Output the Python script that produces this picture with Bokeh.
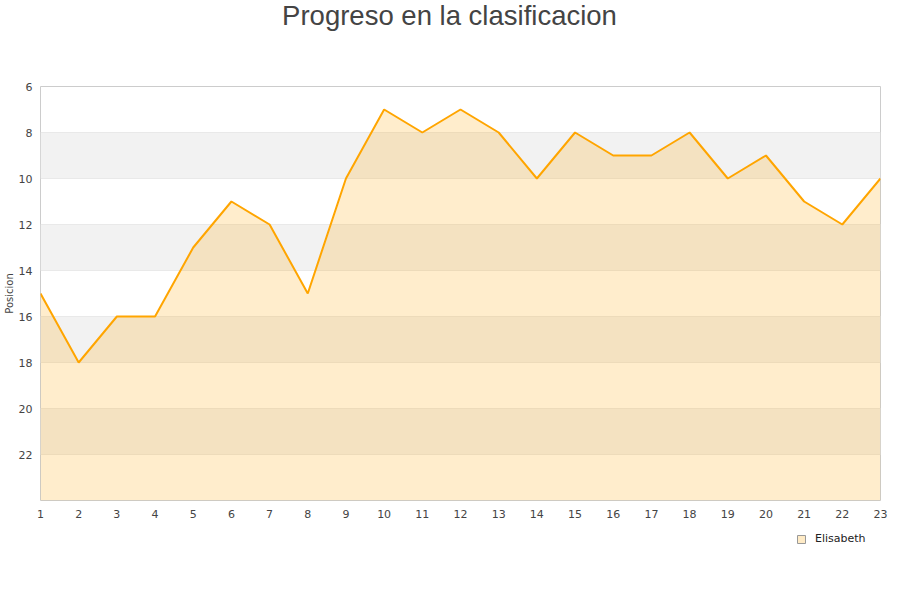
from bokeh.plotting import figure
from bokeh.models import Range1d, BoxAnnotation, FixedTicker, Legend, LegendItem, ColumnDataSource, Label
from bokeh.layouts import column
from bokeh.embed import file_html
from bokeh.resources import INLINE

jornadas = list(range(1, 24))
posiciones = [15, 18, 16, 16, 13, 11, 12, 15, 10, 7, 8, 7, 8, 10, 8, 9, 9, 8, 10, 9, 11, 12, 10]
y_ticks = [6, 8, 10, 12, 14, 16, 18, 20, 22]
band_starts = [8, 12, 16, 20]
series_name = "Elisabeth"
title_text = "Progreso en la clasificacion"

FRAME_LEFT = 40  # the column aligns all frames to the main plot's frame


def blank(h):
    f = figure(width=900, height=h, output_backend="svg", toolbar_location=None,
               x_range=Range1d(0, 1), y_range=Range1d(0, 1),
               x_axis_type=None, y_axis_type=None,
               min_border_left=0, min_border_right=0, min_border_top=0, min_border_bottom=0)
    f.outline_line_color = None
    f.xgrid.grid_line_color = None
    f.ygrid.grid_line_color = None
    return f


# title strip
top = blank(40)
top.add_layout(Label(x=449 - FRAME_LEFT, y=25, x_units="screen", y_units="screen", text=title_text,
                     text_font="Liberation Sans", text_font_size="27.5px", text_color="#444444",
                     text_align="center", text_baseline="middle"))

p = figure(width=900, height=485, output_backend="svg", toolbar_location=None,
           x_range=Range1d(1, 23), y_range=Range1d(24, 6),
           min_border_left=FRAME_LEFT, min_border_right=20, min_border_bottom=25, min_border_top=46)

p.outline_line_color = "#cccccc"
p.background_fill_color = "white"
p.border_fill_color = "white"

for b in band_starts:
    p.add_layout(BoxAnnotation(bottom=b, top=b + 2, fill_color="#f2f2f2", fill_alpha=1.0, line_alpha=0, level="underlay"))

p.xgrid.grid_line_color = None
p.ygrid.grid_line_color = "#e0e0e0"
p.ygrid.ticker = FixedTicker(ticks=y_ticks)

src = ColumnDataSource(dict(x=jornadas, y=posiciones, base=[24] * len(jornadas)))
p.varea(x="x", y1="y", y2="base", source=src, fill_color="#ffa500", fill_alpha=0.2)
p.line(x="x", y="y", source=src, line_color="#ffa500", line_width=2)

for ax in (p.xaxis[0], p.yaxis[0]):
    ax.axis_line_color = None
    ax.major_tick_line_color = None
    ax.minor_tick_line_color = None
    ax.major_tick_out = 0
    ax.major_tick_in = 0
    ax.minor_tick_out = 0
    ax.minor_tick_in = 0
    ax.major_label_text_font = "DejaVu Sans"
    ax.major_label_text_font_size = "11px"
    ax.major_label_text_color = "#444444"

p.xaxis.ticker = FixedTicker(ticks=jornadas)
p.yaxis.ticker = FixedTicker(ticks=y_ticks)
p.xaxis.major_label_standoff = 9
p.yaxis.major_label_standoff = 8
p.yaxis.axis_label = "Posicion"
p.yaxis.axis_label_text_font = "DejaVu Sans"
p.yaxis.axis_label_text_font_size = "10px"
p.yaxis.axis_label_text_font_style = "normal"
p.yaxis.axis_label_text_color = "#444444"
p.yaxis.axis_label_standoff = 1

# legend strip (the key box's data lies outside the strip's range, so only the legend shows it)
bot = blank(75)
dummy = bot.quad(left=[-5], right=[-4], bottom=[-5], top=[-4],
                 fill_color="#ffebc6", line_color="#999999", line_width=1)
legend = Legend(items=[LegendItem(label=series_name, renderers=[dummy])],
                location=(794 - FRAME_LEFT, 53), orientation="horizontal",
                label_text_font="DejaVu Sans", label_text_font_size="11px",
                label_text_color="#222222", glyph_width=10, glyph_height=10, label_standoff=9,
                background_fill_alpha=0, border_line_alpha=0, padding=2, spacing=4, margin=0)
bot.add_layout(legend, "center")

layout = column(top, p, bot, spacing=0)
out = file_html(layout, INLINE)
open("out.html", "w").write(out)
